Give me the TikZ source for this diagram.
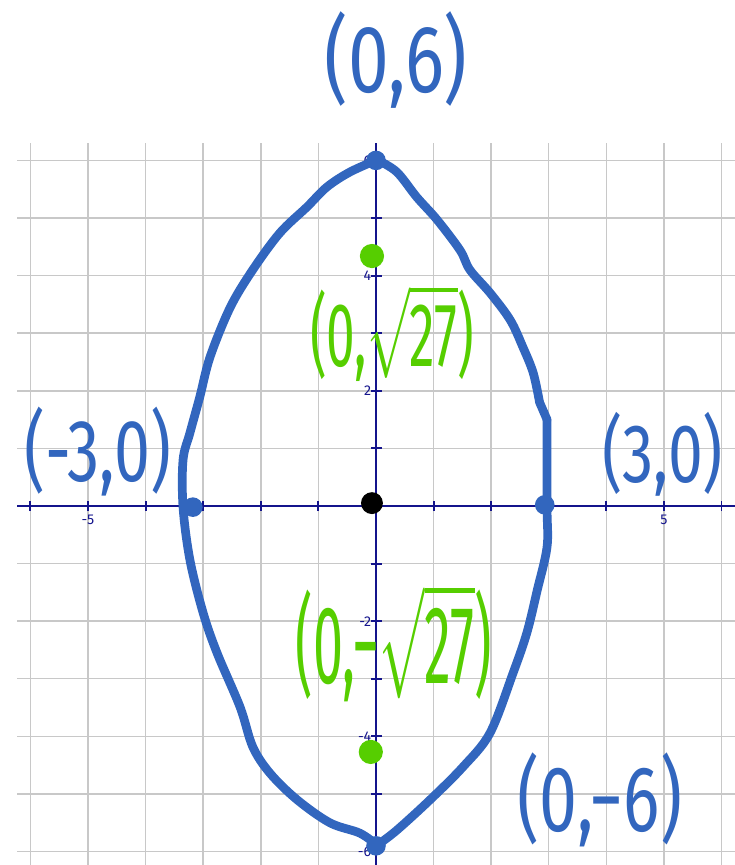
\documentclass[tikz,border=0pt]{standalone}
\usepackage{fontspec}
\setmainfont{Fira Sans}
\usetikzlibrary{positioning}
\definecolor{inkblue}{RGB}{50,102,190}
\definecolor{inkgreen}{RGB}{86,206,0}
\definecolor{axisnavy}{RGB}{20,20,140}
\definecolor{gridgray}{RGB}{200,200,200}

\begin{document}
\begin{tikzpicture}[
  gridline/.style={draw=gridgray, line width=0.7pt},
  axisline/.style={draw=axisnavy, line width=0.9pt},
  ticklbl/.style={font=\fontsize{7}{8}\selectfont, text=axisnavy, inner sep=1pt},
  curve/.style={draw=inkblue, line width=4.3pt, line cap=round, line join=round},
  bluedot/.style={circle, fill=inkblue, minimum size=0.34cm, inner sep=0pt},
  greendot/.style={circle, fill=inkgreen, minimum size=0.42cm, inner sep=0pt},
  blackdot/.style={circle, fill=black, minimum size=0.38cm, inner sep=0pt},
  handlabel/.style={font=\Huge, inner sep=0pt},
]
  \useasboundingbox (-6.528,-6.233) rectangle (6.233,8.785);

  \draw[gridline] (-6.23,-6.23) grid (6.23,6.3);
  \draw[axisline] (-6.23,0) -- (6.23,0);
  \draw[axisline] (0,-6.23) -- (0,6.3);
  \foreach \i in {-6,...,6} {
    \draw[axisline] (\i,-0.09) -- (\i,0.09);
    \draw[axisline] (-0.09,\i) -- (0.11,\i);
  }

  \node[ticklbl, below=0.12cm] (xm5) at (-5,0) {-5};
  \node[ticklbl, below=0.12cm] (xp5) at (5,0) {5};
  \foreach \v in {6,4,2,-2,-4,-6}
    \node[ticklbl, left=0.04cm] (y\v) at (0,\v) {\v};

  \draw[curve] plot[smooth, tension=0.55] coordinates {
    (0.02,6.01) (-0.45,5.80) (-0.85,5.54) (-1.20,5.19) (-1.67,4.74)
    (-2.14,4.10) (-2.53,3.45) (-2.88,2.59) (-3.06,1.89) (-3.23,1.27)
    (-3.35,0.80) (-3.35,-0.02) (-3.23,-0.94) (-3.00,-1.86) (-2.76,-2.55)
    (-2.36,-3.49) (-2.14,-4.18) (-1.84,-4.64) (-1.37,-5.10) (-0.80,-5.50)
    (-0.28,-5.68) (0.02,-5.89)};
  \draw[curve] plot[smooth, tension=0.55] coordinates {
    (0.02,-5.89) (0.36,-5.63) (0.94,-5.10) (1.51,-4.53) (1.98,-3.94)
    (2.38,-2.90) (2.62,-2.20) (2.80,-1.46) (2.97,-0.71) (2.97,-0.02)
    (2.97,1.50)};
  \draw[curve] (2.97,1.50) -- (2.84,1.80);
  \draw[curve] plot[smooth, tension=0.55] coordinates {
    (2.84,1.80) (2.73,2.31) (2.55,2.76) (2.33,3.23) (1.98,3.70)
    (1.63,4.10) (1.46,4.44) (1.06,4.97) (0.71,5.36) (0.36,5.80)
    (0.02,6.01)};

  \node[bluedot] (vtop) at (0,6.0) {};
  \node[bluedot] (vbot) at (0,-5.9) {};
  \node[bluedot] (vleft) at (-3.18,-0.02) {};
  \node[bluedot] (vright) at (2.93,0.02) {};
  \node[greendot] (ftop) at (-0.07,4.34) {};
  \node[greendot] (fbot) at (-0.09,-4.27) {};
  \node[blackdot] (ctr) at (-0.07,0.05) {};

  \node[handlabel, text=inkblue, xscale=1.45, yscale=1.9] (ltop) at (0.35,7.74) {(0,6)};
  \node[handlabel, text=inkblue, xscale=1.28, yscale=1.75] (lleft) at (-4.83,0.94) {(-3,0)};
  \node[handlabel, text=inkblue, xscale=1.24, yscale=1.65] (lright) at (4.98,0.89) {(3,0)};
  \node[handlabel, text=inkblue, xscale=1.35, yscale=1.85] (lbot) at (3.89,-5.10) {(0,−6)};
  \node[handlabel, text=inkgreen, xscale=1.02, yscale=1.8] (lftop) at (0.28,3.0) {(0,$\sqrt{\mbox{27}}$)};
  \node[handlabel, text=inkgreen, xscale=1.07, yscale=2.2] (lfbot) at (0.31,-2.38) {(0,−$\sqrt{\mbox{27}}$)};
\end{tikzpicture}
\end{document}
